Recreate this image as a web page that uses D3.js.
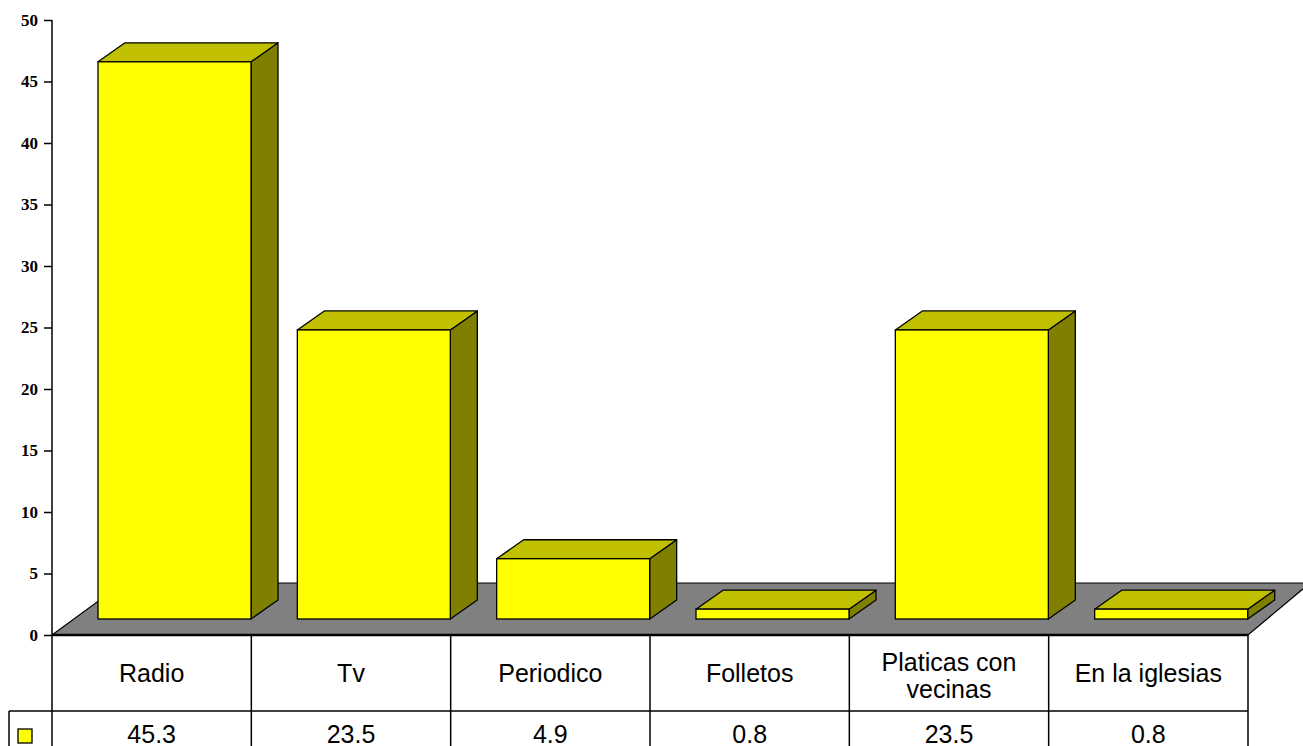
<!DOCTYPE html>
<html>
<head>
<meta charset="utf-8">
<script src="https://cdn.jsdelivr.net/npm/d3@7"></script>
<style>
html,body{margin:0;padding:0;background:#fff;overflow:hidden;}
svg{display:block;}
</style>
</head>
<body>
<svg id="chart" width="1303" height="746"></svg>
<script>
const categories = ["Radio", "Tv", "Periodico", "Folletos", "Platicas con|vecinas", "En la iglesias"];
const values = [45.3, 23.5, 4.9, 0.8, 23.5, 0.8];
const valueLabels = ["45.3", "23.5", "4.9", "0.8", "23.5", "0.8"];
const yTicks = [0, 5, 10, 15, 20, 25, 30, 35, 40, 45, 50];

(function () {
const svg = d3.select("#chart");
const W = 1303, H = 746;
const axisX = 52, rightX = 1248;
const y = d3.scaleLinear().domain([0, 50]).range([635, 20]);
const x = d3.scaleBand().domain(categories).range([axisX, rightX]).padding(0);

const frontCol = "#FFFF00", topCol = "#C0C000", sideCol = "#808000";
const floorBackY = 583;

// floor
svg.append("polygon")
  .attr("points", [[axisX, y(0)], [123, floorBackY], [1310, floorBackY], [rightX, y(0)]].map(p => p.join(",")).join(" "))
  .attr("fill", "#808080").attr("stroke", "#000").attr("stroke-width", 1.2);

// bars
const barOff = 46, barW = 153, baseShift = 16, dx = 27, dy = -19;
const g = svg.append("g");
categories.forEach((c, i) => {
  const x0 = x(c) + barOff, x1 = x0 + barW;
  const yb = y(0) - baseShift, yt = y(values[i]) - baseShift;
  const bar = g.append("g");
  bar.append("polygon")
    .attr("points", [[x1, yt], [x1 + dx, yt + dy], [x1 + dx, yb + dy], [x1, yb]].map(p => p.join(",")).join(" "))
    .attr("fill", sideCol).attr("stroke", "#000").attr("stroke-width", 1.3).attr("stroke-linejoin", "round");
  bar.append("polygon")
    .attr("points", [[x0, yt], [x0 + dx, yt + dy], [x1 + dx, yt + dy], [x1, yt]].map(p => p.join(",")).join(" "))
    .attr("fill", topCol).attr("stroke", "#000").attr("stroke-width", 1.3).attr("stroke-linejoin", "round");
  bar.append("rect")
    .attr("x", x0).attr("y", yt).attr("width", barW).attr("height", yb - yt)
    .attr("fill", frontCol).attr("stroke", "#000").attr("stroke-width", 1.3);
});

// y axis
const axis = svg.append("g").attr("transform", `translate(${axisX},0)`)
  .call(d3.axisLeft(y).tickValues(yTicks).tickSize(8).tickPadding(6).tickFormat(d3.format("d")));
axis.select(".domain").attr("stroke", "#000").attr("stroke-width", 1.5).attr("d", `M0,${y(50)}V${y(0)}`);
axis.selectAll(".tick line").attr("stroke", "#000").attr("stroke-width", 1.5);
axis.selectAll(".tick text")
  .attr("font-family", "'Liberation Serif','Times New Roman',serif")
  .attr("font-weight", "bold").attr("font-size", 17).attr("fill", "#000");

// data table
const t = svg.append("g").attr("stroke", "#000").attr("fill", "none");
t.append("line").attr("x1", axisX).attr("x2", rightX).attr("y1", y(0)).attr("y2", y(0)).attr("stroke-width", 2.5);
t.append("line").attr("x1", 9).attr("x2", rightX).attr("y1", 711).attr("y2", 711).attr("stroke-width", 1.5);
t.append("line").attr("x1", 9).attr("x2", 9).attr("y1", 711).attr("y2", H).attr("stroke-width", 1.5);
const bounds = categories.map(c => x(c)).concat([rightX]);
bounds.forEach(bx => {
  t.append("line").attr("x1", bx).attr("x2", bx).attr("y1", y(0)).attr("y2", H).attr("stroke-width", 1.5);
});

// legend key
svg.append("rect").attr("x", 18).attr("y", 729).attr("width", 14).attr("height", 14)
  .attr("fill", frontCol).attr("stroke", "#000").attr("stroke-width", 1.3);

const font = "'Liberation Sans',Arial,sans-serif";
categories.forEach((c, i) => {
  const cx = x(c) + x.bandwidth() / 2;
  const lines = c.split("|");
  const txt = svg.append("text").attr("x", cx).attr("text-anchor", "middle")
    .attr("font-family", font).attr("font-size", 25).attr("fill", "#000");
  if (lines.length === 1) {
    txt.attr("y", 682).text(lines[0]);
  } else {
    lines.forEach((l, j) => txt.append("tspan").attr("x", cx).attr("y", 671 + j * 27).text(l));
  }
  svg.append("text").attr("x", cx).attr("y", 743).attr("text-anchor", "middle")
    .attr("font-family", font).attr("font-size", 25).attr("fill", "#000").text(valueLabels[i]);
});
})();
</script>
</body>
</html>
